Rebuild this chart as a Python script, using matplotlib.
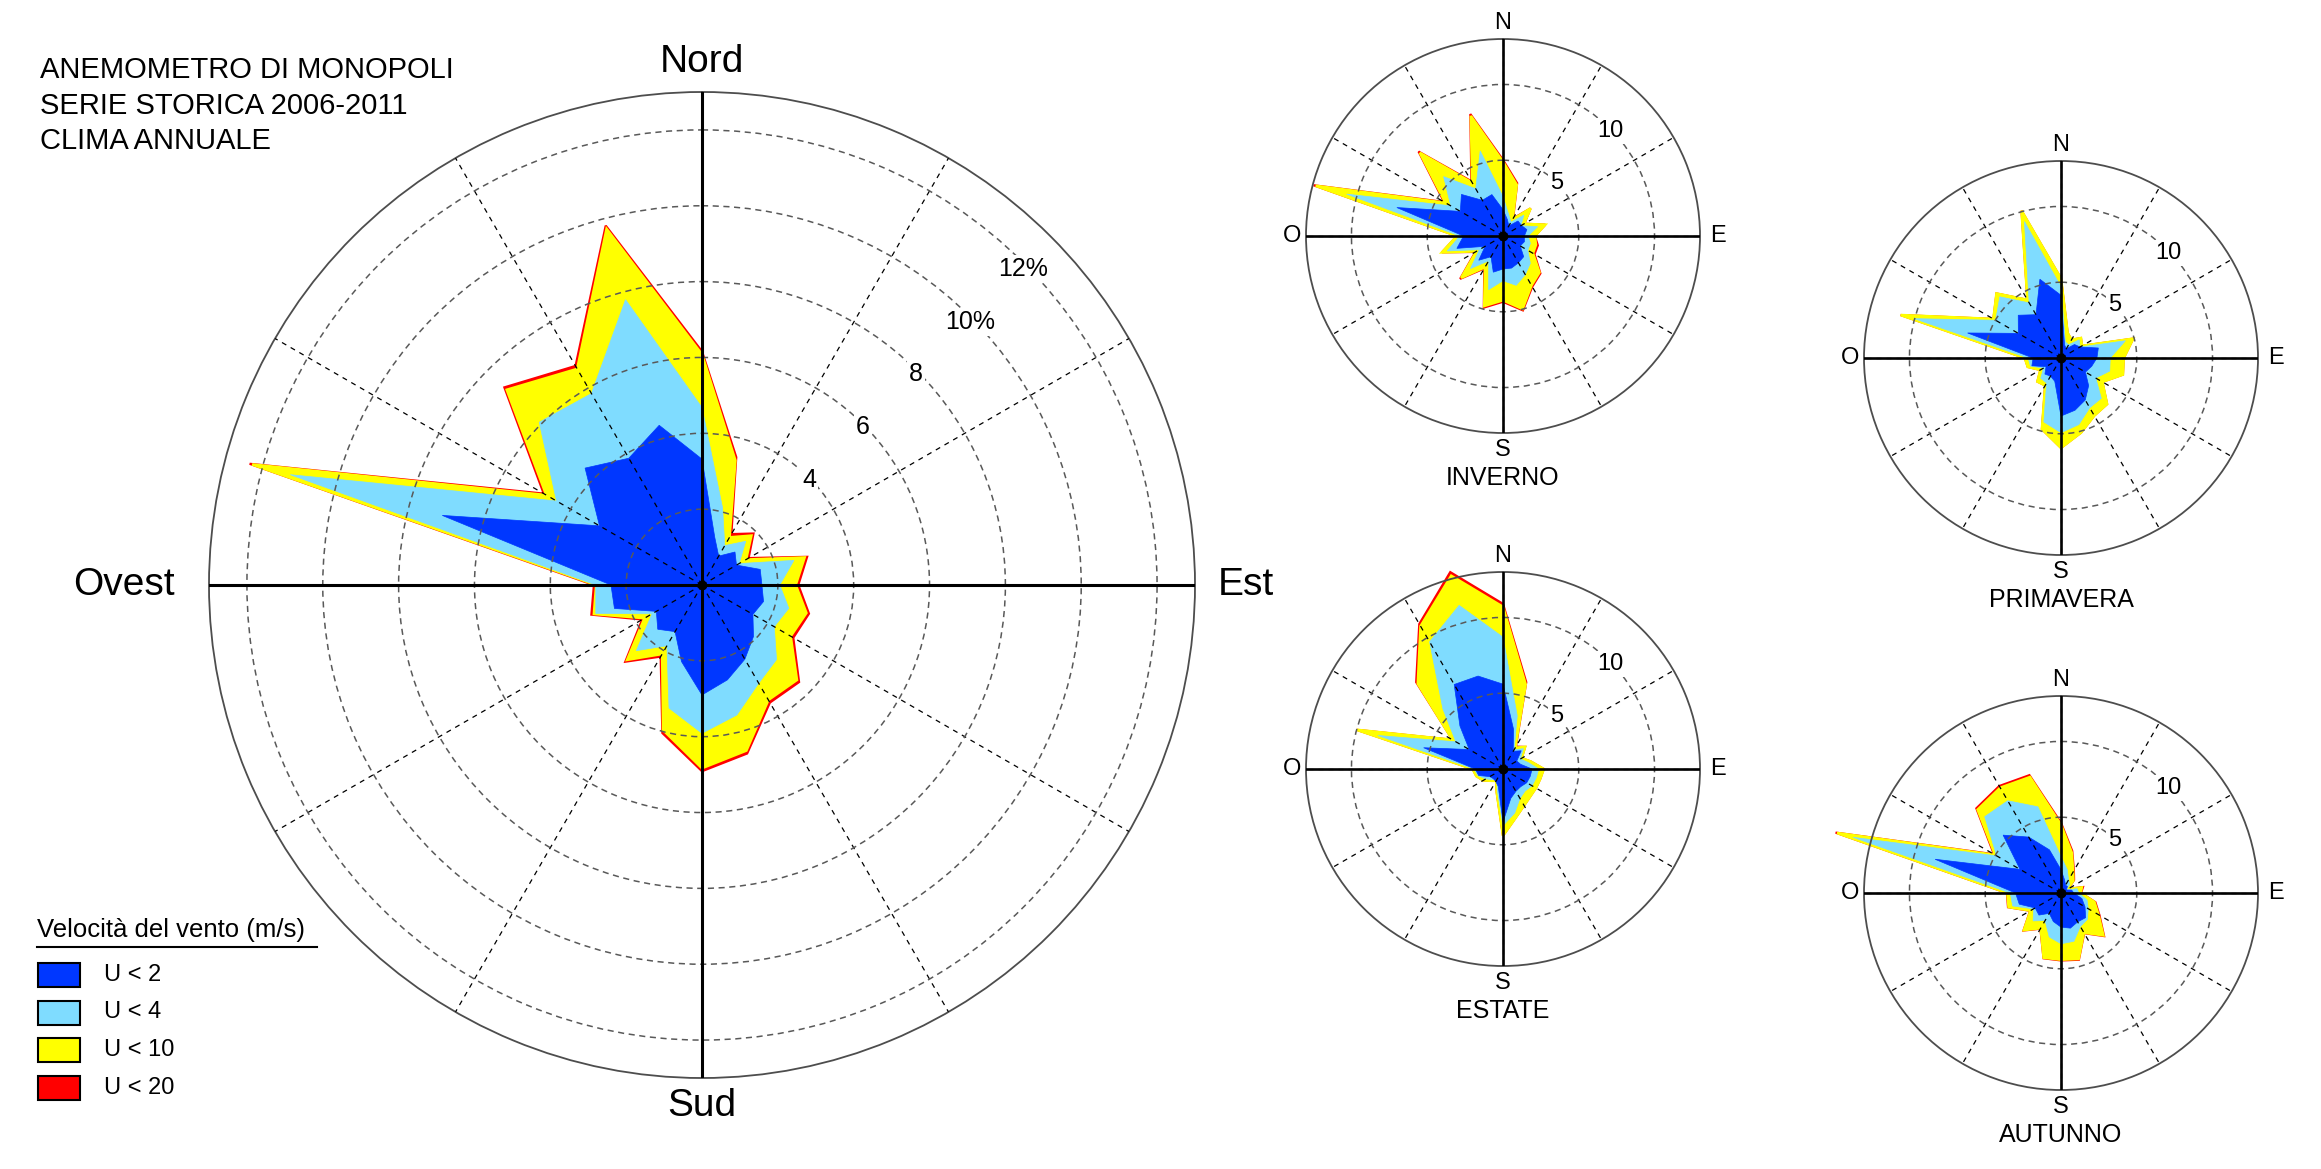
import numpy as np
import matplotlib
matplotlib.use("Agg")
import matplotlib.pyplot as plt
from matplotlib.patches import Rectangle
from matplotlib.lines import Line2D

plt.rcParams['font.family'] = ['Liberation Sans', 'DejaVu Sans']

# direzioni (gradi da nord, senso orario)
dir_deg = [0, 15, 30, 45, 60, 75, 90, 105, 120, 135, 150, 165,
           180, 195, 210, 225, 240, 255, 270, 285, 300, 315, 330, 345]

# frequenze cumulate (%) per classe di velocità
annuale_u2 = [3.32, 1.30, 0.88, 1.23, 1.05, 1.59, 1.58, 1.68, 1.55, 1.92, 2.26, 2.59,
              2.90, 2.09, 1.42, 1.65, 1.39, 2.39, 2.40, 7.09, 3.12, 4.36, 3.86, 4.36]
annuale_u4 = [4.68, 2.10, 1.20, 1.63, 1.13, 2.51, 2.05, 2.37, 2.20, 2.78, 2.99, 3.55,
              3.91, 3.36, 1.85, 2.45, 1.52, 2.90, 2.80, 11.24, 4.43, 6.07, 5.83, 7.79]
annuale_u10 = [6.08, 3.40, 1.45, 1.84, 1.34, 2.80, 2.47, 2.85, 2.70, 3.54, 3.50, 4.52,
               4.83, 3.96, 2.10, 2.79, 1.75, 2.95, 2.79, 12.28, 4.74, 7.28, 6.58, 9.72]
annuale_u20 = [6.16, 3.49, 1.55, 1.92, 1.42, 2.87, 2.54, 2.92, 2.78, 3.62, 3.58, 4.60,
               4.91, 4.04, 2.18, 2.86, 1.82, 3.02, 2.85, 12.35, 4.82, 7.37, 6.67, 9.81]

inverno_u2 = [1.74, 1.12, 0.77, 1.40, 1.40, 1.63, 1.41, 1.46, 1.31, 1.93, 2.04, 2.19,
              2.18, 2.47, 1.58, 2.26, 1.36, 3.15, 2.60, 7.25, 3.25, 3.88, 2.72, 2.83]
inverno_u4 = [2.60, 1.46, 1.05, 1.95, 1.36, 2.37, 1.65, 1.87, 1.89, 2.55, 2.94, 3.37,
              2.95, 3.67, 1.89, 3.04, 1.80, 3.81, 2.85, 10.68, 3.98, 5.54, 3.60, 5.81]
inverno_u10 = [4.90, 3.50, 1.26, 2.57, 1.60, 2.89, 2.10, 2.25, 2.28, 3.40, 3.76, 4.98,
               4.24, 4.78, 2.37, 3.90, 2.02, 4.17, 3.04, 12.80, 4.38, 7.76, 4.06, 8.20]
inverno_u20 = [5.02, 3.61, 1.34, 2.57, 1.62, 2.89, 2.10, 2.38, 2.40, 3.49, 3.86, 5.08,
               4.34, 4.89, 2.47, 4.00, 2.10, 4.17, 3.04, 12.94, 4.49, 7.88, 4.17, 8.33]

primavera_u2 = [4.14, 0.90, 0.70, 1.26, 1.45, 2.55, 2.37, 2.10, 1.86, 2.58, 3.20, 3.57,
                3.83, 1.59, 1.38, 1.50, 1.14, 1.99, 1.84, 6.38, 3.25, 3.99, 3.30, 5.38]
primavera_u4 = [4.69, 1.10, 1.00, 1.70, 1.45, 4.40, 3.25, 3.33, 2.65, 3.76, 3.79, 4.55,
                4.93, 4.37, 1.90, 1.89, 1.33, 2.08, 2.17, 10.03, 4.98, 5.71, 4.20, 9.32]
primavera_u10 = [5.24, 1.70, 1.39, 1.86, 1.60, 4.93, 4.14, 4.23, 3.15, 4.30, 4.39, 5.10,
                 5.93, 4.86, 2.09, 2.20, 1.57, 2.27, 2.39, 10.95, 5.15, 6.02, 4.43, 10.06]
primavera_u20 = [5.24, 1.70, 1.39, 1.86, 1.60, 4.93, 4.14, 4.23, 3.15, 4.30, 4.39, 5.10,
                 5.93, 4.86, 2.09, 2.20, 1.57, 2.27, 2.39, 10.95, 5.15, 6.02, 4.43, 10.06]

estate_u2 = [5.60, 2.70, 1.35, 1.70, 1.05, 1.20, 1.92, 1.86, 1.81, 1.65, 1.70, 2.00,
             3.50, 1.20, 0.95, 0.90, 1.00, 1.66, 1.83, 5.42, 2.57, 4.02, 6.44, 6.35]
estate_u4 = [8.70, 3.63, 1.46, 1.90, 1.32, 1.70, 2.36, 2.27, 2.21, 2.06, 2.24, 3.00,
             3.74, 1.45, 0.80, 1.00, 1.30, 1.70, 1.90, 8.54, 3.59, 5.61, 9.69, 11.18]
estate_u10 = [10.70, 5.78, 1.62, 2.06, 1.42, 1.90, 2.69, 2.54, 2.51, 2.55, 2.78, 3.30,
              4.40, 1.60, 0.90, 1.10, 1.50, 1.82, 2.00, 9.99, 3.85, 7.95, 10.88, 13.20]
estate_u20 = [10.90, 5.93, 1.70, 2.06, 1.42, 1.90, 2.69, 2.54, 2.51, 2.55, 2.78, 3.30,
              4.40, 1.60, 0.90, 1.10, 1.50, 1.82, 2.00, 9.99, 3.85, 8.10, 11.05, 13.45]

autunno_u2 = [1.54, 0.90, 0.60, 0.60, 0.40, 0.73, 0.84, 1.43, 1.83, 2.30, 2.20, 2.40,
              2.25, 1.95, 1.55, 2.06, 1.97, 2.85, 3.00, 8.60, 3.12, 5.40, 4.26, 2.95]
autunno_u4 = [2.40, 1.60, 1.00, 0.80, 0.40, 1.10, 1.17, 1.78, 2.08, 2.46, 2.55, 3.30,
              3.35, 3.00, 2.10, 2.60, 2.10, 3.30, 3.35, 14.20, 4.90, 7.12, 7.03, 5.89]
autunno_u10 = [4.50, 2.75, 1.60, 1.15, 0.50, 1.42, 1.30, 2.28, 2.85, 3.95, 3.02, 4.50,
               4.40, 4.42, 2.68, 3.46, 2.32, 3.58, 3.54, 15.30, 5.02, 7.78, 8.02, 7.92]
autunno_u20 = [4.63, 2.87, 1.70, 1.22, 0.55, 1.50, 1.32, 2.35, 2.93, 4.02, 3.06, 4.56,
               4.45, 4.46, 2.72, 3.50, 2.35, 3.62, 3.57, 15.40, 5.11, 7.90, 8.15, 8.05]

classi = ["U < 2", "U < 4", "U < 10", "U < 20"]
colori = ["#0037ff", "#7fdcff", "#ffff00", "#ff0000"]

W, H = 2321, 1169
fig = plt.figure(figsize=(W / 100, H / 100), dpi=100)


def add_rose(cx, cy, rad, rings, serie, ring_labels, font_card, fs_card, fs_ring, lw_axis):
    ax = fig.add_axes([(cx - rad) / W, (H - cy - rad) / H, 2 * rad / W, 2 * rad / H],
                      projection='polar')
    ax.set_theta_zero_location('N')
    ax.set_theta_direction(-1)
    ax.set_ylim(0, 13)
    theta = np.radians(dir_deg)

    # poligoni: dal più esterno al più interno
    u2, u4, u10, u20 = serie
    ax.fill(theta, u20, facecolor=colori[3], edgecolor=colori[3], lw=1.6, zorder=1.0, clip_on=False)
    ax.fill(theta, u10, facecolor=colori[2], edgecolor=colori[2], lw=1.9, zorder=1.1, clip_on=False)
    ax.fill(theta, u4, facecolor=colori[1], edgecolor=colori[1], lw=0.5, zorder=1.2, clip_on=False)
    ax.fill(theta, u2, facecolor=colori[0], edgecolor=colori[0], lw=0.5, zorder=1.3, clip_on=False)

    ax.set_axisbelow(False)
    ax.set_thetagrids(range(0, 360, 30), labels=[''] * 12)
    ax.set_rgrids(rings, labels=[''] * len(rings))
    ax.xaxis.grid(True, color='black', linestyle=(0, (4, 4)), linewidth=0.9)
    ax.yaxis.grid(True, color='0.35', linestyle=(0, (4, 3)), linewidth=1.1)
    ax.spines['polar'].set_color('0.3')
    ax.spines['polar'].set_linewidth(1.3)

    # assi N-S / E-O
    ax.plot(np.radians([0, 0, 180]), [13, 0, 13], color='black', lw=lw_axis, zorder=3)
    ax.plot(np.radians([90, 0, 270]), [13, 0, 13], color='black', lw=lw_axis, zorder=3)
    ax.plot([0], [0], 'o', color='black', ms=6, zorder=4)

    for r, lab in zip(rings, ring_labels):
        if lab:
            ax.text(np.radians(45.5), r * 0.99, lab, ha='center', va='center', fontsize=fs_ring,
                    zorder=5, bbox=dict(facecolor='white', edgecolor='none', pad=1.5))

    names, offs = font_card
    for ang, name, off in zip([0, 180, 270, 90], names, offs):
        ax.text(np.radians(ang), off, name, ha='center', va='center', fontsize=fs_card)
    return ax


# rosa annuale
add_rose(702, 585, 493, [2, 4, 6, 8, 10, 12],
         (annuale_u2, annuale_u4, annuale_u10, annuale_u20),
         ['', '4', '6', '8', '10%', '12%'],
         (['Nord', 'Sud', 'Ovest', 'Est'], [13.8, 13.75, 15.25, 14.35]),
         28, 18, 2.2)

# rose stagionali
stagioni = [("INVERNO", 1503, 236, (inverno_u2, inverno_u4, inverno_u10, inverno_u20)),
            ("PRIMAVERA", 2061, 358, (primavera_u2, primavera_u4, primavera_u10, primavera_u20)),
            ("ESTATE", 1503, 769, (estate_u2, estate_u4, estate_u10, estate_u20)),
            ("AUTUNNO", 2061, 893, (autunno_u2, autunno_u4, autunno_u10, autunno_u20))]
for nome, cx, cy, serie in stagioni:
    ax = add_rose(cx, cy, 197, [5, 10], serie, ['5', '10'],
                  (['N', 'S', 'O', 'E'], [14.05, 14.1, 13.9, 14.2]),
                  17, 17, 1.9)
    ax.text(np.pi, 15.95, nome, ha='center', va='center', fontsize=18)

# titolo
for i, riga in enumerate(["ANEMOMETRO DI MONOPOLI", "SERIE STORICA 2006-2011", "CLIMA ANNUALE"]):
    fig.text(40 / W, 1 - (70 + 35.5 * i) / H, riga, ha='left', va='center', fontsize=21)

# legenda
fig.text(37 / W, 1 - 930 / H, "Velocità del vento (m/s)", ha='left', va='center', fontsize=18.5)
fig.add_artist(Line2D([37 / W, 317 / W], [1 - 947 / H, 1 - 947 / H], color='black', lw=1.5))
for i, (lab, col) in enumerate(zip(classi, colori)):
    yc = 975 + 37.5 * i
    fig.add_artist(Rectangle((38 / W, 1 - (yc + 12) / H), 42 / W, 24 / H,
                             facecolor=col, edgecolor='black', lw=1.5,
                             transform=fig.transFigure))
    fig.text(104 / W, 1 - yc / H, lab, ha='left', va='center', fontsize=17)

fig.savefig("out.png", dpi=100, facecolor='white')
